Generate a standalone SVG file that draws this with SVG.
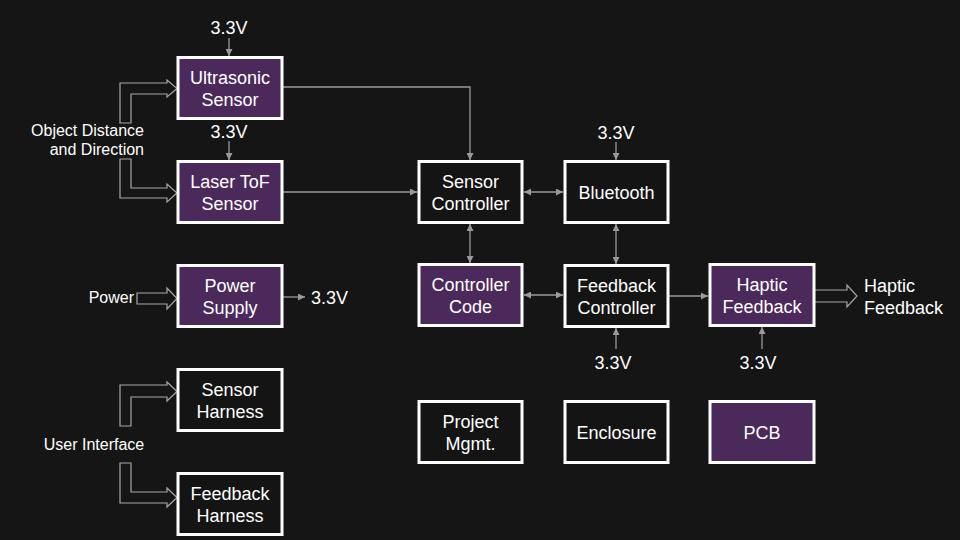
<svg xmlns="http://www.w3.org/2000/svg" width="960" height="540" viewBox="0 0 960 540">
<defs>
<marker id="ah" viewBox="0 0 8 8" refX="8" refY="4" markerWidth="8" markerHeight="7" markerUnits="userSpaceOnUse" orient="auto-start-reverse">
<path d="M0,0 L8,4 L0,8 Z" fill="#9a9a9a"/>
</marker>
</defs>
<style>
text{font-family:"Liberation Sans",Arial,sans-serif;fill:#ffffff;font-size:18px;text-anchor:middle}
.sm{font-size:16px}
.box{stroke:#ffffff;stroke-width:3}
.p{fill:#4b2a5b}
.k{fill:#141414}
.ln{fill:none;stroke:#9a9a9a;stroke-width:1.3}
.blk{fill:none;stroke:#a8a8a8;stroke-width:1.2}
</style>
<rect width="960" height="540" fill="#151515"/>

<g id="connectors">
<line class="ln" x1="229" y1="38" x2="229" y2="56" marker-end="url(#ah)"/>
<line class="ln" x1="229" y1="141" x2="229" y2="160" marker-end="url(#ah)"/>
<line class="ln" x1="283" y1="297" x2="305" y2="297" marker-end="url(#ah)"/>
<polyline class="ln" points="283,87 470,87 470,160" marker-end="url(#ah)"/>
<line class="ln" x1="283" y1="192" x2="417" y2="192" marker-end="url(#ah)"/>
<line class="ln" x1="524" y1="192" x2="563" y2="192" marker-start="url(#ah)" marker-end="url(#ah)"/>
<line class="ln" x1="470" y1="224" x2="470" y2="263" marker-start="url(#ah)" marker-end="url(#ah)"/>
<line class="ln" x1="616" y1="142" x2="616" y2="160" marker-end="url(#ah)"/>
<line class="ln" x1="616" y1="224" x2="616" y2="264" marker-start="url(#ah)" marker-end="url(#ah)"/>
<line class="ln" x1="524" y1="295" x2="563" y2="295" marker-start="url(#ah)" marker-end="url(#ah)"/>
<line class="ln" x1="669" y1="296" x2="708" y2="296" marker-end="url(#ah)"/>
<line class="ln" x1="616" y1="349" x2="616" y2="328" marker-end="url(#ah)"/>
<line class="ln" x1="762" y1="349" x2="762" y2="327" marker-end="url(#ah)"/>
<polygon class="blk" points="120,123 120,83 167,83 167,80 177,88.5 167,97 167,94 131,94 131,123"/>
<polygon class="blk" points="120,159 131,159 131,188 167,188 167,184 177,193 167,202 167,198 120,198"/>
<polygon class="blk" points="137,293 167,293 167,288 177,298.5 167,309 167,304 137,304"/>
<polygon class="blk" points="120,426 120,385 167,385 167,382 177,391.5 167,401 167,397 131,397 131,426"/>
<polygon class="blk" points="120,463 131,463 131,492 167,492 167,488 177,497.5 167,507 167,503 120,503"/>
<polygon class="blk" points="814,290 847,290 847,285 857,296 847,307 847,302 814,302"/>
</g>

<g id="labels">
<text x="229" y="34">3.3V</text>
<text x="229" y="138">3.3V</text>
<text class="sm" x="144" y="136" style="text-anchor:end">Object Distance</text>
<text class="sm" x="144" y="155" style="text-anchor:end">and Direction</text>
<text class="sm" x="134" y="303" style="text-anchor:end">Power</text>
<text x="311" y="304" style="text-anchor:start">3.3V</text>
<text class="sm" x="94" y="450">User Interface</text>
<text x="616" y="139">3.3V</text>
<text x="613" y="369">3.3V</text>
<text x="758" y="369">3.3V</text>
<text x="864" y="292" style="text-anchor:start">Haptic</text>
<text x="864" y="314" style="text-anchor:start">Feedback</text>
</g>

<g id="ultrasonic-sensor"><rect class="box p" x="178" y="57.5" width="104" height="61"/><text x="230" y="84">Ultrasonic</text><text x="230" y="106">Sensor</text></g>
<g id="laser-tof-sensor"><rect class="box p" x="178" y="161.5" width="104" height="61"/><text x="230" y="188">Laser ToF</text><text x="230" y="210">Sensor</text></g>
<g id="power-supply"><rect class="box p" x="178" y="265.5" width="104" height="61"/><text x="230" y="292">Power</text><text x="230" y="314">Supply</text></g>
<g id="sensor-harness"><rect class="box k" x="178" y="369.5" width="104" height="61"/><text x="230" y="396">Sensor</text><text x="230" y="418">Harness</text></g>
<g id="feedback-harness"><rect class="box k" x="178" y="473.5" width="104" height="61"/><text x="230" y="500">Feedback</text><text x="230" y="522">Harness</text></g>

<g id="sensor-controller"><rect class="box k" x="419" y="161.5" width="103" height="61"/><text x="470.5" y="188">Sensor</text><text x="470.5" y="210">Controller</text></g>
<g id="controller-code"><rect class="box p" x="419" y="264.5" width="103" height="61"/><text x="470.5" y="291">Controller</text><text x="470.5" y="313">Code</text></g>
<g id="project-mgmt"><rect class="box k" x="419" y="401.5" width="103" height="61"/><text x="470.5" y="428">Project</text><text x="470.5" y="450">Mgmt.</text></g>

<g id="bluetooth"><rect class="box k" x="565" y="161.5" width="103" height="61"/><text x="616.5" y="199">Bluetooth</text></g>
<g id="feedback-controller"><rect class="box k" x="565" y="265.5" width="103" height="61"/><text x="616.5" y="292">Feedback</text><text x="616.5" y="314">Controller</text></g>
<g id="enclosure"><rect class="box k" x="565" y="401.5" width="103" height="61"/><text x="616.5" y="439">Enclosure</text></g>

<g id="haptic-feedback"><rect class="box p" x="710" y="264.5" width="104" height="61"/><text x="762" y="291">Haptic</text><text x="762" y="313">Feedback</text></g>
<g id="pcb"><rect class="box p" x="710" y="401.5" width="104" height="61"/><text x="762" y="439">PCB</text></g>
</svg>
